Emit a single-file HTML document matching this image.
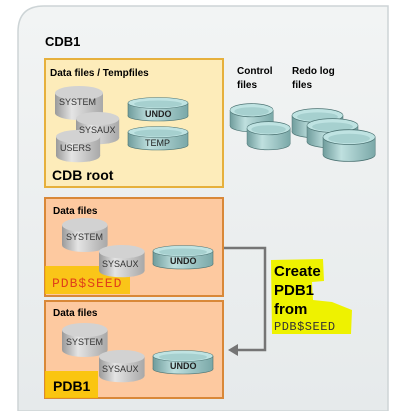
<!DOCTYPE html>
<html><head><meta charset="utf-8"><style>
html,body{margin:0;padding:0;background:#fff;width:400px;height:411px;overflow:hidden}
svg{display:block;font-family:"Liberation Sans",Arial,sans-serif}
</style></head><body>
<svg width="400" height="411" viewBox="0 0 400 411">
<defs>
<linearGradient id="g" x1="0" x2="1" y1="0" y2="0">
<stop offset="0" stop-color="#9a9a9a"/><stop offset="0.35" stop-color="#e4e4e4"/><stop offset="1" stop-color="#a8a8a8"/></linearGradient>
<linearGradient id="t" x1="0" x2="1" y1="0" y2="0">
<stop offset="0" stop-color="#6f9c9c"/><stop offset="0.35" stop-color="#bfe0df"/><stop offset="1" stop-color="#7aa8a8"/></linearGradient>
<linearGradient id="bg" x1="0" x2="0" y1="0" y2="1">
<stop offset="0" stop-color="#f2f4f4"/><stop offset="1" stop-color="#e6eaeb"/></linearGradient>
<g id="gc"><rect x="0" y="7" width="48" height="20" fill="url(#g)"/><ellipse cx="24" cy="27" rx="24" ry="7" fill="url(#g)"/><ellipse cx="24" cy="7" rx="24" ry="7" fill="#d2d2d2"/></g>
<g id="tc"><rect x="0" y="6" width="60" height="13" fill="url(#t)"/><ellipse cx="30" cy="19" rx="30" ry="5" fill="url(#t)" stroke="#4c7373" stroke-width="0.6"/><rect x="0" y="6" width="60" height="13" fill="url(#t)"/><line x1="0" y1="6" x2="0" y2="19" stroke="#4c7373" stroke-width="0.6"/><line x1="60" y1="6" x2="60" y2="19" stroke="#4c7373" stroke-width="0.6"/><ellipse cx="30" cy="6" rx="30" ry="5.5" fill="#bfe3e2" stroke="#4c7373" stroke-width="0.6"/><ellipse cx="30" cy="7" rx="24" ry="3.5" fill="#a6d0cf"/></g>
</defs>
<path d="M18,411 L18,32 Q18,6 44,6 L388,6 L388,411 Z" fill="url(#bg)" stroke="#cdd4d6" stroke-width="1.5"/>
<text x="45" y="46" font-size="13" font-weight="bold">CDB1</text>
<!-- root -->
<rect x="45" y="59" width="178" height="128" fill="#fdecba" stroke="#e6b03c" stroke-width="2"/>
<text x="50" y="76" font-size="10" font-weight="bold">Data files / Tempfiles</text>
<use href="#gc" transform="translate(55,86)"/>
<text x="59" y="105" font-size="9" fill="#333">SYSTEM</text>
<use href="#gc" transform="translate(76,112) scale(0.9,0.95)"/>
<use href="#gc" transform="translate(56,130) scale(0.92,0.95)"/>
<text x="60" y="151" font-size="9" fill="#333">USERS</text>
<use href="#gc" transform="translate(76,112) scale(0.9,0.95)" opacity="0"/>
<text x="79" y="133" font-size="9" fill="#333">SYSAUX</text>
<use href="#tc" transform="translate(128,97)"/>
<text x="145" y="117" font-size="9" font-weight="bold" fill="#222">UNDO</text>
<use href="#tc" transform="translate(128,126)"/>
<text x="145" y="146" font-size="9" fill="#222">TEMP</text>
<text x="52" y="180" font-size="14" font-weight="bold">CDB root</text>
<!-- control/redo -->
<text x="237" y="74" font-size="10" font-weight="bold">Control</text>
<text x="237" y="88" font-size="10" font-weight="bold">files</text>
<text x="292" y="74" font-size="10" font-weight="bold">Redo log</text>
<text x="292" y="88" font-size="10" font-weight="bold">files</text>
<use href="#tc" transform="translate(230,103) scale(0.72,1.2)"/>
<use href="#tc" transform="translate(247,121) scale(0.72,1.2)"/>
<use href="#tc" transform="translate(292,108) scale(0.85,1.25)"/>
<use href="#tc" transform="translate(307,118) scale(0.85,1.25)"/>
<use href="#tc" transform="translate(323,129) scale(0.87,1.35)"/>
<!-- seed -->
<rect x="45" y="198" width="178" height="98" fill="#fdc9a0" stroke="#d98838" stroke-width="2"/>
<text x="53" y="214" font-size="10" font-weight="bold">Data files</text>
<use href="#gc" transform="translate(62,218) scale(0.95,1)"/>
<text x="66" y="240" font-size="9" fill="#333">SYSTEM</text>
<rect x="45" y="266" width="85" height="28" fill="#f9c400" opacity="0.85"/>
<use href="#gc" transform="translate(99,245) scale(0.95,0.95)"/>
<text x="102" y="267" font-size="9" fill="#333">SYSAUX</text>
<use href="#tc" transform="translate(153,245)"/>
<text x="170" y="264" font-size="9" font-weight="bold" fill="#222">UNDO</text>
<text x="52" y="287" font-size="13" fill="#e0401a" font-family="Liberation Mono,monospace" letter-spacing="1">PDB$SEED</text>
<!-- pdb1 -->
<rect x="45" y="301" width="178" height="97" fill="#fdc9a0" stroke="#d98838" stroke-width="2"/>
<text x="53" y="316" font-size="10" font-weight="bold">Data files</text>
<use href="#gc" transform="translate(62,323) scale(0.95,1)"/>
<text x="66" y="345" font-size="9" fill="#333">SYSTEM</text>
<use href="#gc" transform="translate(99,350) scale(0.95,0.95)"/>
<text x="102" y="372" font-size="9" fill="#333">SYSAUX</text>
<use href="#tc" transform="translate(153,350)"/>
<text x="170" y="369" font-size="9" font-weight="bold" fill="#222">UNDO</text>
<rect x="45" y="371" width="53" height="27" fill="#f9c400" opacity="0.9"/>
<text x="53" y="391" font-size="14" font-weight="bold">PDB1</text>
<!-- connector -->
<polyline points="224,248 265,248 265,350 236,350" fill="none" stroke="#757575" stroke-width="2.5"/>
<polygon points="228,350 238,344 238,356" fill="#757575"/>
<!-- label -->
<path d="M271,260 L323,259 L324,281 L312,282 L313,300 L332,302 L352,310 L351,334 L272,334 Z" fill="#eef200"/>
<text x="274" y="276" font-size="15" font-weight="bold">Create</text>
<text x="274" y="295" font-size="15" font-weight="bold">PDB1</text>
<text x="274" y="314" font-size="15" font-weight="bold">from</text>
<text x="274" y="330" font-size="12" fill="#333" font-family="Liberation Mono,monospace" letter-spacing="0.5">PDB$SEED</text>
</svg>
</body></html>
